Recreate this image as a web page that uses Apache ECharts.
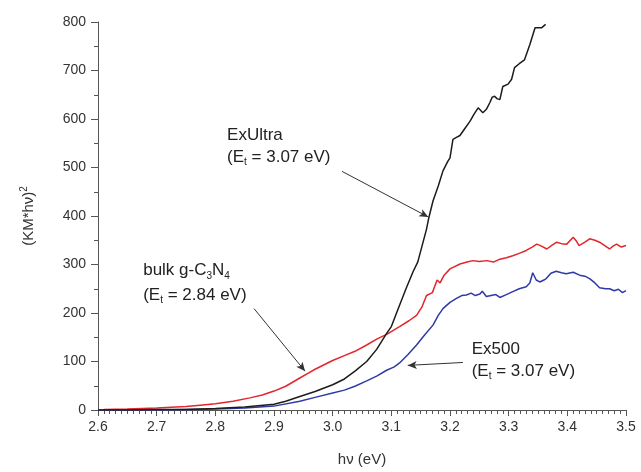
<!DOCTYPE html>
<html>
<head>
<meta charset="utf-8">
<script src="https://cdn.jsdelivr.net/npm/echarts@6/dist/echarts.min.js"></script>
<style>
  html, body { margin: 0; padding: 0; background: #fff; }
  #chart { width: 641px; height: 472px; }
</style>
</head>
<body>
<div id="chart"></div>
<script>
  // ExUltra (black)
  var exUltraX = [2.60, 2.65, 2.70, 2.75, 2.80, 2.85, 2.90, 2.92, 2.944, 2.97, 3.00, 3.02, 3.038, 3.058, 3.075, 3.092, 3.10, 3.114, 3.125, 3.137, 3.145, 3.16, 3.164, 3.171, 3.18, 3.188, 3.196, 3.20, 3.205, 3.211, 3.217, 3.225, 3.234, 3.241, 3.248, 3.256, 3.262, 3.268, 3.272, 3.276, 3.28, 3.285, 3.29, 3.299, 3.305, 3.31, 3.318, 3.327, 3.336, 3.345, 3.356, 3.363];
  var exUltraY = [0, 0, 1, 1, 3, 6, 12, 18, 28, 38, 52, 64, 80, 100, 125, 158, 172, 216, 250, 285, 305, 373, 397, 431, 462, 493, 512, 520, 558, 562, 566, 580, 595, 610, 623, 613, 620, 634, 645, 647, 642, 640, 667, 672, 682, 706, 714, 722, 753, 788, 788, 795];

  // bulk g-C3N4 (red)
  var bulkX = [2.61, 2.65, 2.70, 2.75, 2.774, 2.80, 2.83, 2.859, 2.88, 2.90, 2.92, 2.944, 2.957, 2.97, 3.00, 3.02, 3.038, 3.058, 3.075, 3.092, 3.114, 3.13, 3.143, 3.152, 3.16, 3.17, 3.178, 3.183, 3.19, 3.20, 3.217, 3.229, 3.239, 3.25, 3.263, 3.274, 3.285, 3.296, 3.307, 3.318, 3.33, 3.34, 3.348, 3.356, 3.365, 3.374, 3.382, 3.39, 3.399, 3.41, 3.415, 3.42, 3.43, 3.438, 3.447, 3.455, 3.465, 3.472, 3.478, 3.484, 3.492, 3.50];
  var bulkY = [1, 2, 4, 7, 10, 13, 18, 25, 31, 39, 49, 66, 75, 84, 102, 112, 121, 134, 146, 156, 172, 184, 195, 212, 236, 242, 268, 262, 278, 291, 301, 305, 308, 306, 308, 305, 311, 314, 318, 323, 329, 336, 342, 338, 332, 340, 346, 343, 342, 356, 349, 339, 346, 353, 350, 346, 338, 332, 338, 342, 336, 339];

  // Ex500 (blue)
  var ex500X = [2.60, 2.65, 2.70, 2.75, 2.80, 2.85, 2.90, 2.944, 2.97, 3.00, 3.02, 3.038, 3.058, 3.075, 3.092, 3.105, 3.114, 3.128, 3.143, 3.157, 3.171, 3.18, 3.188, 3.20, 3.211, 3.22, 3.228, 3.236, 3.243, 3.251, 3.255, 3.262, 3.27, 3.278, 3.285, 3.296, 3.307, 3.318, 3.33, 3.336, 3.341, 3.347, 3.353, 3.36, 3.364, 3.372, 3.381, 3.39, 3.398, 3.41, 3.421, 3.43, 3.438, 3.447, 3.455, 3.465, 3.472, 3.48, 3.487, 3.494, 3.50];
  var ex500Y = [0, 0, 0, 1, 2, 4, 8, 18, 26, 35, 41, 49, 60, 70, 82, 89, 97, 114, 134, 155, 175, 195, 209, 222, 230, 236, 237, 241, 236, 239, 245, 234, 236, 238, 232, 238, 244, 250, 254, 262, 283, 268, 264, 268, 271, 282, 286, 283, 281, 284, 278, 276, 271, 262, 252, 250, 250, 246, 249, 242, 246];

  // arrows: [fromX, fromY, toX, toY] in data units
  var arrowExUltra = [3.016, 492, 3.163, 398];
  var arrowBulk = [2.866, 209, 2.953, 80];
  var arrowEx500 = [3.222, 98, 3.128, 92];

  function zip(xs, ys) {
    return xs.map(function (x, i) { return [x, ys[i]]; });
  }

  var font = '"Liberation Sans", Arial, sans-serif';
  var chart = echarts.init(document.getElementById('chart'));

  function lineSeries(name, xs, ys, color) {
    return {
      name: name,
      type: 'line',
      showSymbol: false,
      symbol: 'none',
      smooth: false,
      lineStyle: { color: color, width: 1.5 },
      data: zip(xs, ys)
    };
  }

  function arrowPair(a) {
    return [{ coord: [a[0], a[1]] }, { coord: [a[2], a[3]] }];
  }

  var series = [
    lineSeries('bulk', bulkX, bulkY, '#e3262b'),
    lineSeries('Ex500', ex500X, ex500Y, '#2e3aa6'),
    lineSeries('ExUltra', exUltraX, exUltraY, '#1c1c1c')
  ];
  series[2].markLine = {
    silent: true,
    symbol: ['none', 'arrow'],
    symbolSize: [6, 9],
    label: { show: false },
    lineStyle: { color: '#333', width: 1, type: 'solid' },
    emphasis: { disabled: true },
    data: [arrowPair(arrowExUltra), arrowPair(arrowBulk), arrowPair(arrowEx500)]
  };

  chart.setOption({
    animation: false,
    backgroundColor: '#fff',
    grid: { left: 98, right: 15, top: 22, bottom: 60 },
    xAxis: {
      type: 'value',
      min: 2.6,
      max: 3.5,
      interval: 0.1,
      name: 'hν (eV)',
      nameLocation: 'middle',
      nameGap: 42,
      nameTextStyle: { color: '#333', fontSize: 15, fontFamily: font },
      axisLine: { lineStyle: { color: '#555', width: 1 } },
      axisTick: { show: true, length: 6, lineStyle: { color: '#555' } },
      minorTick: { show: true, splitNumber: 10, length: 4, lineStyle: { color: '#555' } },
      splitLine: { show: false },
      axisLabel: {
        color: '#333', fontSize: 14, fontFamily: font, margin: 10,
        formatter: function (v) { return v.toFixed(1); }
      }
    },
    yAxis: {
      type: 'value',
      min: 0,
      max: 800,
      interval: 100,
      name: '{a|(KM*hν)}{s|2}',
      nameLocation: 'middle',
      nameGap: 60,
      nameRotate: 90,
      nameTextStyle: {
        rich: {
          a: { color: '#333', fontSize: 15, fontFamily: font },
          s: { color: '#333', fontSize: 10, fontFamily: font, padding: [0, 0, 9, 0] }
        }
      },
      axisLine: { show: true, lineStyle: { color: '#555', width: 1 } },
      axisTick: { show: true, length: 7, lineStyle: { color: '#555' } },
      minorTick: { show: true, splitNumber: 2, length: 4, lineStyle: { color: '#555' } },
      splitLine: { show: false },
      axisLabel: { color: '#333', fontSize: 14, fontFamily: font, margin: 12 }
    },
    series: series
  });

  // annotation texts, anchored in data units (left edge, line centre)
  var labels = [
    { pos: [2.82, 566], text: '{a|ExUltra}' },
    { pos: [2.82, 521], text: '{a|(E}{s|t}{a| = 3.07 eV)}' },
    { pos: [2.677, 287], text: '{a|bulk g-C}{s|3}{a|N}{s|4}' },
    { pos: [2.677, 236], text: '{a|(E}{s|t}{a| = 2.84 eV)}' },
    { pos: [3.237, 125], text: '{a|Ex500}' },
    { pos: [3.237, 80], text: '{a|(E}{s|t}{a| = 3.07 eV)}' }
  ];
  var rich = {
    a: { fill: '#222', fontSize: 17, fontFamily: font },
    s: { fill: '#222', fontSize: 10, fontFamily: font, padding: [10, 0, 0, 0] }
  };
  chart.setOption({
    graphic: labels.map(function (l) {
      var p = chart.convertToPixel({ gridIndex: 0 }, l.pos);
      return {
        type: 'text',
        x: p[0],
        y: p[1],
        silent: true,
        style: { text: l.text, rich: rich, align: 'left', verticalAlign: 'middle' }
      };
    })
  });

  window.addEventListener('resize', function () { chart.resize(); });
</script>
</body>
</html>
